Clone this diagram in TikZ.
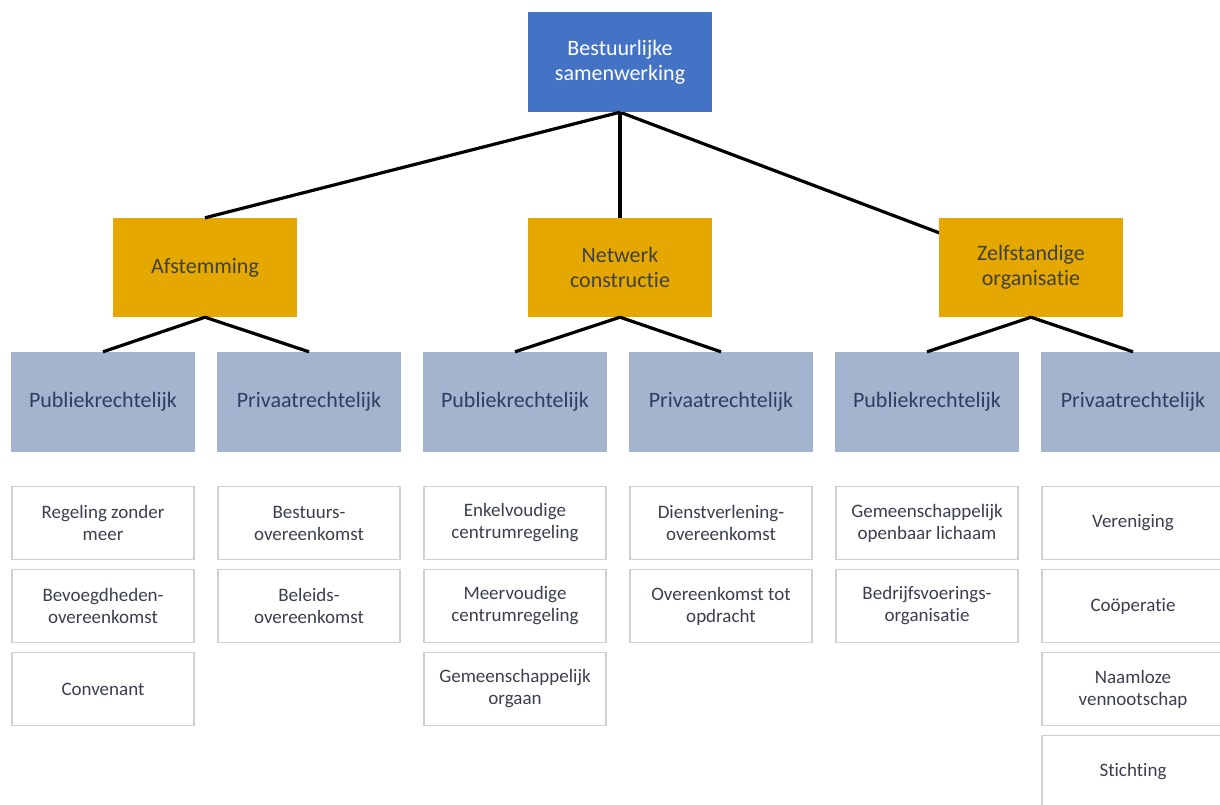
\documentclass[tikz,border=0pt]{standalone}
\usepackage{fontspec}
\setmainfont{Carlito}[Ligatures=NoCommon]
\usetikzlibrary{backgrounds}
\definecolor{bestblauw}{HTML}{4472C4}
\definecolor{goud}{HTML}{E5A800}
\definecolor{grijsblauw}{HTML}{A5B4CE}
\definecolor{donkerblauw}{HTML}{2F3E5E}
\definecolor{bladtekst}{HTML}{3B3F4F}
\definecolor{bladrand}{HTML}{D0D0D0}
\tikzset{
  hoofd/.style={fill=bestblauw,text=white,minimum width=184pt,minimum height=100pt,
    align=center,inner sep=0pt,font=\fontsize{22}{25}\selectfont},
  midden/.style={fill=goud,text=black!75,minimum width=184pt,minimum height=99pt,
    align=center,inner sep=0pt,font=\fontsize{22}{25}\selectfont},
  soort/.style={fill=grijsblauw,text=donkerblauw,minimum width=184pt,minimum height=100pt,
    align=center,inner sep=0pt,font=\fontsize{22}{25}\selectfont},
  blad/.style={draw=bladrand,line width=1.5pt,fill=white,text=bladtekst,minimum width=182pt,
    minimum height=73pt,align=center,inner sep=0pt,font=\fontsize{19}{22}\selectfont},
  lijn/.style={line width=3.2pt,black}
}
\begin{document}
\begin{tikzpicture}[x=1pt,y=-1pt]
\useasboundingbox (0,0) rectangle (1220,804);
\clip (0,0) rectangle (1220,804);
\node[hoofd] (bestuur) at (620,62) {Bestuurlijke\\samenwerking};
%
% tweede laag
\node[midden] (afst) at (205,267.5) {Afstemming};
\node[midden] (netw) at (620,267.5) {Netwerk\\constructie};
\node[midden] (zelf) at (1031,267.5) {Zelfstandige\\organisatie};
\draw[lijn] (bestuur.south) -- (afst.north);
\draw[lijn] (bestuur.south) -- (netw.north);
\begin{scope}[on background layer]
\draw[lijn] (bestuur.south) -- (zelf.center);
\end{scope}
%
% publiek- en privaatrechtelijk
\node[soort] (afstpub) at (103,402) {Publiekrechtelijk};
\node[soort] (afstpriv) at (309,402) {Privaatrechtelijk};
\node[soort] (netwpub) at (515,402) {Publiekrechtelijk};
\node[soort] (netwpriv) at (721,402) {Privaatrechtelijk};
\node[soort] (zelfpub) at (927,402) {Publiekrechtelijk};
\node[soort] (zelfpriv) at (1133,402) {Privaatrechtelijk};
\foreach \ouder/\kind in {afst/afstpub,afst/afstpriv,netw/netwpub,netw/netwpriv,%
zelf/zelfpub,zelf/zelfpriv}
\draw[lijn] (\ouder.south) -- (\kind.north);
%
% vormen
\foreach \rij/\tekst in {1/{Regeling zonder\\meer},2/{Bevoegdheden-\\overeenkomst},3/Convenant}
\node[blad] (afstpub-\rij) at (103,{440+83*\rij}) {\tekst};
\foreach \rij/\tekst in {1/{Bestuurs-\\overeenkomst},2/{Beleids-\\overeenkomst}}
\node[blad] (afstpriv-\rij) at (309,{440+83*\rij}) {\tekst};
\foreach \rij/\tekst in {1/{Enkelvoudige\\centrumregeling},2/{Meervoudige\\centrumregeling},%
3/{Gemeenschappelijk\\orgaan}}
\node[blad] (netwpub-\rij) at (515,{440+83*\rij}) {\tekst};
\foreach \rij/\tekst in {1/{Dienstverlening-\\overeenkomst},2/{Overeenkomst tot\\opdracht}}
\node[blad] (netwpriv-\rij) at (721,{440+83*\rij}) {\tekst};
\foreach \rij/\tekst in {1/{Gemeenschappelijk\\openbaar lichaam},2/{Bedrijfsvoerings-\\organisatie}}
\node[blad] (zelfpub-\rij) at (927,{440+83*\rij}) {\tekst};
\foreach \rij/\tekst in {1/Vereniging,2/Coöperatie,3/{Naamloze\\vennootschap},4/Stichting}
\node[blad] (zelfpriv-\rij) at (1133,{440+83*\rij}) {\tekst};
\end{tikzpicture}
\end{document}
